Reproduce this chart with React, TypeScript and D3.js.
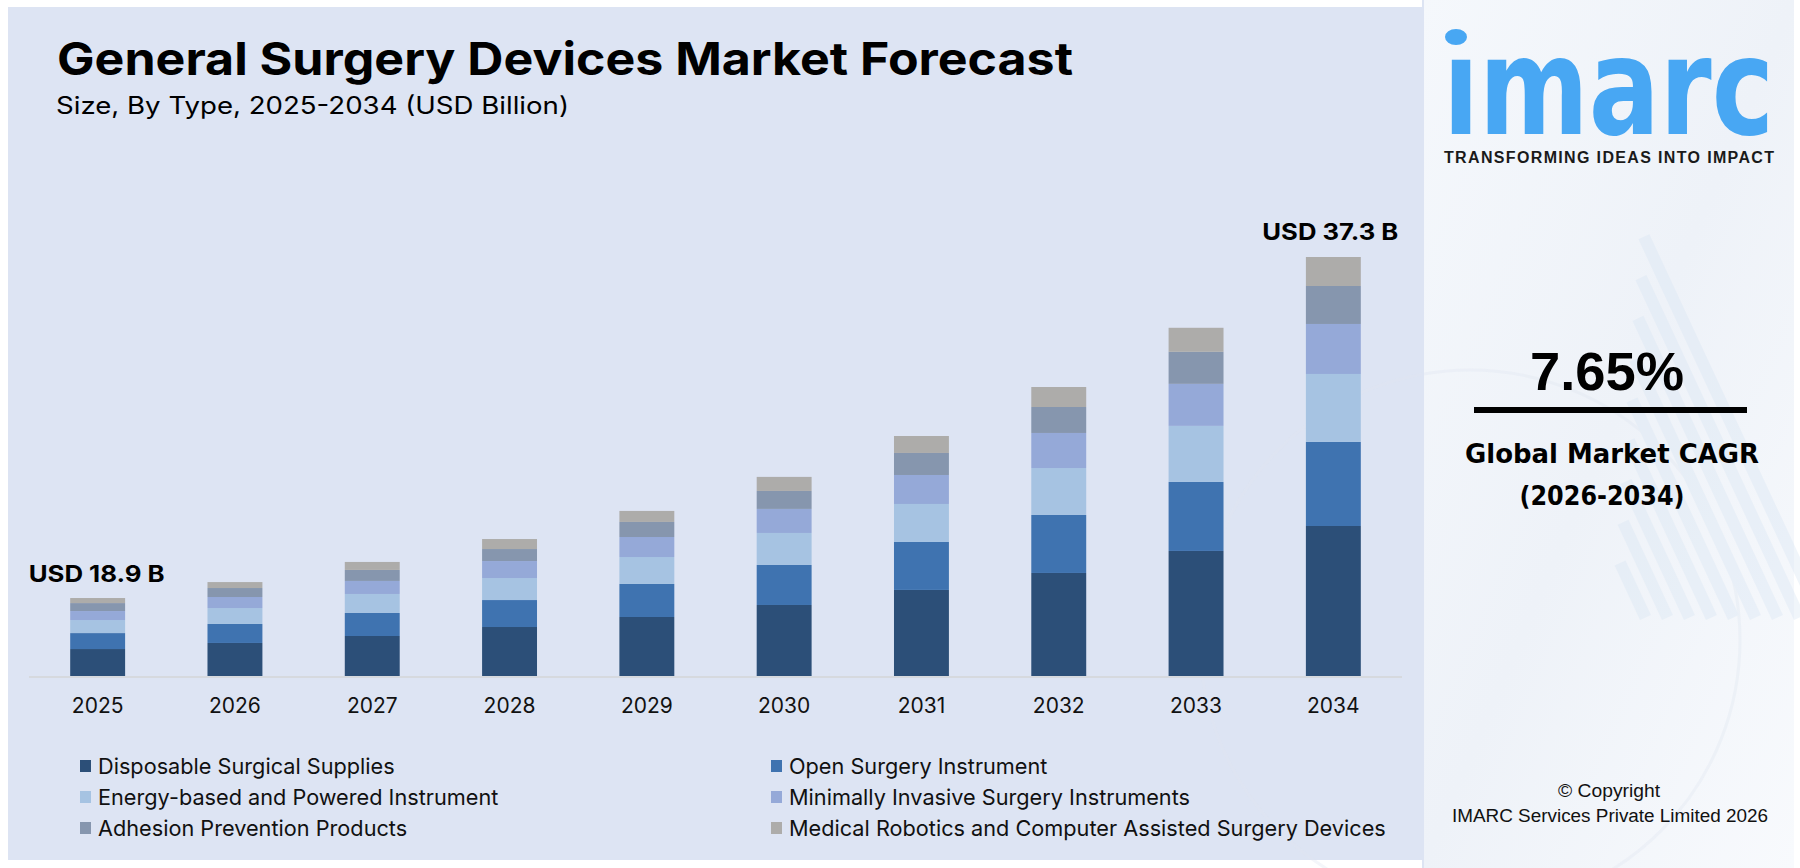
import React from "react";
import * as d3 from "d3";

const years = ["2025", "2026", "2027", "2028", "2029", "2030", "2031", "2032", "2033", "2034"];
const disposable = [2.40, 2.94, 3.56, 4.36, 5.25, 6.32, 7.66, 9.17, 11.13, 13.35];
const openSurgery = [1.42, 1.69, 2.05, 2.40, 2.94, 3.56, 4.27, 5.16, 6.14, 7.48];
const energyBased = [1.16, 1.42, 1.69, 1.96, 2.40, 2.85, 3.38, 4.18, 4.99, 6.05];
const minimallyInvasive = [0.80, 0.98, 1.16, 1.51, 1.78, 2.14, 2.58, 3.12, 3.74, 4.45];
const adhesion = [0.71, 0.80, 0.98, 1.07, 1.34, 1.60, 1.96, 2.31, 2.85, 3.38];
const robotics = [0.45, 0.53, 0.71, 0.89, 0.98, 1.25, 1.51, 1.78, 2.14, 2.58];

const seriesNames = [
  "Disposable Surgical Supplies",
  "Open Surgery Instrument",
  "Energy-based and Powered Instrument",
  "Minimally Invasive Surgery Instruments",
  "Adhesion Prevention Products",
  "Medical Robotics and Computer Assisted Surgery Devices",
];
const seriesColors = ["#2c4f78", "#3f73b0", "#a6c3e2", "#95a9d8", "#8696ae", "#adacaa"];
const endLabels = ["USD 18.9 B", "USD 37.3 B"];
const cagrValue = "7.65%";

const W = 1800;
const H = 868;
const FONT = "Inter, 'Open Sans', 'Liberation Sans', sans-serif";

export default function App() {
  const keys = ["d", "o", "e", "m", "a", "r"];
  const rows = years.map((y, i) => ({
    year: y,
    d: disposable[i],
    o: openSurgery[i],
    e: energyBased[i],
    m: minimallyInvasive[i],
    a: adhesion[i],
    r: robotics[i],
  }));
  const stacked = d3.stack<any>().keys(keys)(rows);
  const totals = rows.map((r) => keys.reduce((s, k) => s + (r as any)[k], 0));
  const yMax = d3.max(totals) as number;

  const x = d3.scaleBand<string>().domain(years).range([29, 1402]).paddingInner(0.6).paddingOuter(0.3);
  const y = d3.scaleLinear().domain([0, yMax]).range([676, 257]);

  const firstIdx = 0;
  const lastIdx = years.length - 1;

  const legendRows = [766, 797, 828];
  const legendCols = [80, 771];

  return (
    <svg
      width={W}
      height={H}
      style={{ position: "absolute", left: 0, top: 0, display: "block" }}
      xmlns="http://www.w3.org/2000/svg"
    >
      <defs>
        <linearGradient id="rp" x1="0" y1="0" x2="1" y2="1">
          <stop offset="0" stopColor="#f5f8fc" />
          <stop offset="0.5" stopColor="#eef2f8" />
          <stop offset="1" stopColor="#f8fafd" />
        </linearGradient>
      </defs>
      <rect x={0} y={0} width={W} height={H} fill="#ffffff" />
      {/* left chart panel */}
      <rect x={8} y={7} width={1414} height={853} fill="#dde4f3" />
      {/* right panel */}
      <rect x={1422} y={0} width={372} height={H} fill="url(#rp)" />
      <g opacity={0.35}>
        <circle cx={1470} cy={640} r={270} fill="none" stroke="#dfe6f0" strokeWidth={3} />
        {d3.range(9).map((i) => (
          <rect
            key={i}
            x={1640 + i * 22}
            y={560 - i * 45}
            width={12}
            height={60 + i * 45}
            fill="#d6e4f3"
            transform={`rotate(-25 ${1640 + i * 22} 620)`}
          />
        ))}
      </g>
      <rect x={1422} y={0} width={2} height={H} fill="#dde4f3" />

      {/* title */}
      <text x={57} y={75} fontFamily={FONT} fontWeight={700} fontSize={45} fill="#000" textLength={1016} lengthAdjust="spacingAndGlyphs">
        General Surgery Devices Market Forecast
      </text>
      <text x={56} y={114} fontFamily={FONT} fontWeight={400} fontSize={24} fill="#000" textLength={513} lengthAdjust="spacingAndGlyphs">
        Size, By Type, 2025-2034 (USD Billion)
      </text>

      {/* bars */}
      {stacked.map((s, si) => (
        <g key={si} fill={seriesColors[si]}>
          {s.map((d, i) => (
            <rect
              key={i}
              x={x(years[i])}
              y={y(d[1])}
              width={x.bandwidth()}
              height={y(d[0]) - y(d[1])}
            />
          ))}
        </g>
      ))}

      {/* baseline */}
      <line x1={29} x2={1402} y1={677} y2={677} stroke="#d6d9de" strokeWidth={2} />

      {/* year labels */}
      {years.map((yr) => (
        <text
          key={yr}
          x={(x(yr) as number) + x.bandwidth() / 2}
          y={713}
          textAnchor="middle"
          fontFamily={FONT}
          fontSize={21}
          fill="#111"
        >
          {yr}
        </text>
      ))}

      {/* end labels */}
      <text
        x={(x(years[firstIdx]) as number) + x.bandwidth() / 2 - 1}
        y={y(totals[firstIdx]) - 16}
        textAnchor="middle"
        fontFamily={FONT}
        fontWeight={700}
        fontSize={23}
        fill="#000"
        textLength={136}
        lengthAdjust="spacingAndGlyphs"
      >
        {endLabels[0]}
      </text>
      <text
        x={(x(years[lastIdx]) as number) + x.bandwidth() / 2 - 3}
        y={y(totals[lastIdx]) - 17}
        textAnchor="middle"
        fontFamily={FONT}
        fontWeight={700}
        fontSize={23}
        fill="#000"
        textLength={136}
        lengthAdjust="spacingAndGlyphs"
      >
        {endLabels[1]}
      </text>

      {/* legend */}
      {seriesNames.map((name, i) => {
        const col = i % 2;
        const row = Math.floor(i / 2);
        const lx = legendCols[col];
        const ly = legendRows[row];
        return (
          <g key={name}>
            <rect x={lx} y={ly - 6} width={11} height={12} fill={seriesColors[i]} />
            <text x={lx + 18} y={ly + 7.5} fontFamily={FONT} fontSize={21.7} fill="#111">
              {name}
            </text>
          </g>
        );
      })}

      {/* logo */}
      <ellipse cx={1456} cy={37} rx={11} ry={8} fill="#48a7f3" />
      <g transform="translate(1443,134) scale(0.774,1)">
        <text
          x={0}
          y={0}
          fontFamily="'DejaVu Sans', sans-serif"
          fontWeight={700}
          fontSize={136}
          fill="#48a7f3"
        >
          ımarc
        </text>
      </g>
      <text
        x={1444}
        y={163}
        fontFamily="'Liberation Sans', Arial, sans-serif"
        fontWeight={700}
        fontSize={16}
        fill="#1a1a1a"
        textLength={330}
        lengthAdjust="spacing"
      >
        TRANSFORMING IDEAS INTO IMPACT
      </text>

      {/* CAGR */}
      <text x={1607} y={390} textAnchor="middle" fontFamily="'Liberation Sans', Arial, sans-serif" fontWeight={700} fontSize={54} fill="#000" textLength={154} lengthAdjust="spacingAndGlyphs">
        {cagrValue}
      </text>
      <rect x={1474} y={407} width={273} height={6} fill="#000" />
      <text x={1612} y={463} textAnchor="middle" fontFamily="'DejaVu Sans', sans-serif" fontWeight={700} fontSize={26} fill="#000" textLength={294} lengthAdjust="spacingAndGlyphs">
        Global Market CAGR
      </text>
      <text x={1602} y={505} textAnchor="middle" fontFamily="'DejaVu Sans', sans-serif" fontWeight={700} fontSize={26} fill="#000" textLength={165} lengthAdjust="spacingAndGlyphs">
        (2026-2034)
      </text>

      {/* copyright */}
      <text x={1609} y={797} textAnchor="middle" fontFamily="'Liberation Sans', Arial, sans-serif" fontSize={18} fill="#111" textLength={102} lengthAdjust="spacingAndGlyphs">
        © Copyright
      </text>
      <text x={1610} y={822} textAnchor="middle" fontFamily="'Liberation Sans', Arial, sans-serif" fontSize={18} fill="#111" textLength={316} lengthAdjust="spacingAndGlyphs">
        IMARC Services Private Limited 2026
      </text>
    </svg>
  );
}
